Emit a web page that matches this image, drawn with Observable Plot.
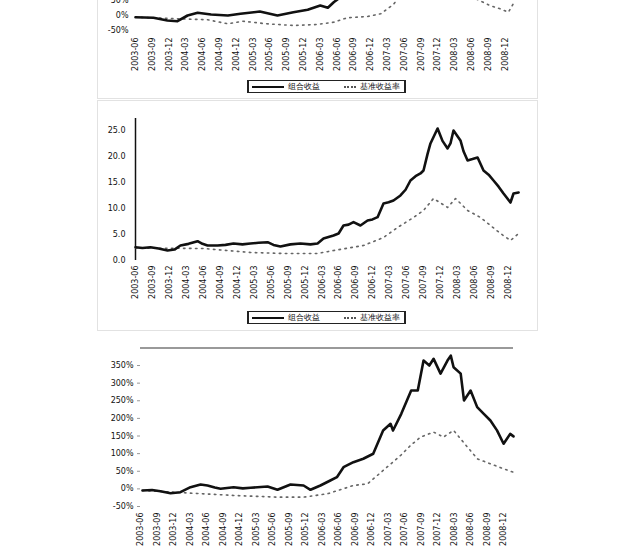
<!DOCTYPE html>
<html>
<head>
<meta charset="utf-8">
<script src="https://cdn.jsdelivr.net/npm/d3@7"></script>
<script src="https://cdn.jsdelivr.net/npm/@observablehq/plot@0.6"></script>
<style>
  html, body { margin: 0; padding: 0; background: #fff; }
  #page { position: relative; width: 632px; height: 553px; overflow: hidden; background: #fff; font-family: "DejaVu Sans", sans-serif; }
  .frame { position: absolute; border: 1px solid #e2e2e2; box-sizing: border-box; }
  .chart { position: absolute; }
  .legend { position: absolute; height: 13px; box-sizing: border-box; border: 1px solid #222; border-left-width: 2px; border-right-width: 2px;
            display: flex; align-items: center; font-size: 8px; color: #111; white-space: nowrap; }
  .legend .ln { display: inline-block; width: 32px; border-top: 2px solid #111; margin: 0 4px 0 3px; }
  .legend .dt { display: inline-block; width: 12px; border-top: 2px dotted #555; margin: 0 4px 0 24px; }
</style>
</head>
<body>
<div id="page"></div>
<script>
// x-axis category labels (quarter ends)
const xLabels = ["2003-06","2003-09","2003-12","2004-03","2004-06","2004-09","2004-12","2005-03","2005-06","2005-09","2005-12","2006-03","2006-06","2006-09","2006-12","2007-03","2007-06","2007-09","2007-12","2008-03","2008-06","2008-09","2008-12"];
const seriesNames = ["组合收益", "基准收益率"];

// Top panel (mostly cut off): % values
const topAx = [0, 1.07, 1.9, 2.5, 3.1, 3.7, 4.5, 5.5, 6.25, 7.4, 8.45, 9.4, 10.25, 11.0, 11.45, 11.8, 12.1, 13, 14, 15, 16, 17, 17.8, 18.4, 18.8, 19.5, 20.5, 21.5, 22.4, 22.7];
const topAy = [-5.7, -7.7, -16.7, -19, 0, 9, 3.3, 0, 5.7, 13.3, 0, 11, 19, 33.3, 25.7, 44.3, 56.7, 100, 130, 200, 280, 330, 390, 330, 380, 300, 240, 190, 150, 170];
const topBx = [0, 4.3, 5.5, 6.4, 7.8, 9.4, 10.8, 11.8, 12.6, 13.8, 14.6, 15.35, 16.5, 17.7, 18.9, 20.1, 21.1, 21.7, 22.2, 22.5];
const topBy = [-5.7, -14.3, -27.7, -19, -27.7, -33.3, -30, -22.3, -7.7, -3.3, 5.7, 36.7, 120, 160, 110, 60, 33.3, 22.3, 11, 40];
const topTicks = [-50, 0, 50];

// Middle panel
const midAx = [0, 0.41, 0.88, 1.36, 1.89, 2.3, 2.65, 3.13, 3.66, 3.95, 4.25, 4.84, 5.31, 5.78, 6.31, 6.78, 7.26, 7.79, 8.14, 8.55, 9.14, 9.73, 10.32, 10.74, 11.09, 11.68, 11.98, 12.27, 12.57, 12.86, 13.27, 13.69, 13.98, 14.28, 14.63, 14.93, 15.22, 15.63, 15.93, 16.22, 16.52, 16.81, 16.99, 17.23, 17.4, 17.82, 18.11, 18.41, 18.58, 18.76, 19.17, 19.35, 19.59, 19.88, 20.18, 20.53, 20.83, 21.12, 21.42, 21.71, 22.12, 22.3, 22.6];
const midAy = [2.56, 2.4, 2.56, 2.3, 1.92, 2.1, 2.88, 3.2, 3.71, 3.2, 2.88, 2.88, 3.0, 3.27, 3.1, 3.27, 3.4, 3.52, 3.0, 2.69, 3.1, 3.27, 3.1, 3.27, 4.23, 4.81, 5.2, 6.73, 6.9, 7.37, 6.73, 7.69, 7.9, 8.33, 10.96, 11.2, 11.54, 12.5, 13.6, 15.38, 16.2, 16.73, 17.31, 20.5, 22.5, 25.38, 23, 21.54, 22.5, 25, 23.08, 21, 19.23, 19.5, 19.81, 17.31, 16.5, 15.38, 14.2, 12.88, 11.15, 12.88, 13.08];
const midBx = [0, 4.01, 6.78, 8.73, 10.74, 11.68, 13.45, 14.63, 15.46, 16.4, 16.99, 17.58, 18.41, 18.88, 19.59, 20.35, 20.94, 21.53, 22.12, 22.6];
const midBy = [2.4, 2.31, 1.54, 1.35, 1.35, 1.92, 2.88, 4.42, 6.35, 8.27, 9.62, 11.92, 10.19, 11.92, 9.62, 8.27, 6.73, 5.19, 3.85, 5.19];
const midTicks = [0, 5, 10, 15, 20, 25];

// Bottom panel: % values
const botAx = [0.12, 0.7, 1.21, 1.82, 2.42, 3.03, 3.64, 4.06, 4.5, 4.85, 5.64, 6.2, 6.67, 7.7, 8.3, 9.09, 9.88, 10.3, 10.9, 11.5, 11.9, 12.3, 12.9, 13.5, 14.1, 14.7, 15.15, 15.3, 15.8, 16.4, 16.8, 17.15, 17.5, 17.76, 18.18, 18.6, 18.8, 18.97, 19.4, 19.6, 20, 20.4, 20.8, 21.2, 21.6, 22, 22.4, 22.6];
const botAy = [-4.5, -3, -6.5, -12.2, -9.4, 4.8, 12.5, 9.6, 4, 0.3, 4.8, 1.5, 3.1, 6.8, -2.6, 12.5, 9.6, -2.6, 9.6, 23.8, 33.2, 61.6, 75.7, 85.4, 99.6, 165.7, 184.7, 165.7, 213, 279, 279, 364, 350, 369, 327, 364, 378, 345, 327, 251, 279, 232, 213, 194, 166, 128, 156, 149];
const botBx = [0.12, 5.64, 8.3, 9.88, 11.33, 12.9, 13.76, 14.7, 15.76, 16.36, 16.97, 17.76, 18.36, 18.97, 19.82, 20.42, 21.21, 22, 22.6];
const botBy = [-4.5, -18.7, -23.5, -23.5, -13.9, 9.6, 14.5, 52.2, 94.8, 123, 147, 161, 147, 166, 118, 85, 71, 57, 47];
const botTicks = [-50, 0, 50, 100, 150, 200, 250, 300, 350];

const page = document.getElementById("page");
const rows = (xs, ys) => xs.map((x, i) => ({x, y: ys[i]}));
const font = "DejaVu Sans, sans-serif";
const lineA = {x: "x", y: "y", stroke: "#111", strokeWidth: 2.6, curve: "linear"};
const lineB = {x: "x", y: "y", stroke: "#666", strokeWidth: 1.6, strokeDasharray: "1.5,4.5"};
const xAxis = (pad) => Plot.axisX({ticks: d3.range(xLabels.length), tickFormat: i => xLabels[i], tickRotate: -90, tickSize: 0, tickPadding: pad, label: null, fontSize: 8});

function place(el, left, top) {
  const w = document.createElement("div");
  w.className = "chart";
  w.style.left = left + "px";
  w.style.top = top + "px";
  w.appendChild(el);
  page.appendChild(w);
}
function frame(l, t, w, h) {
  const d = document.createElement("div");
  d.className = "frame";
  Object.assign(d.style, {left: l + "px", top: t + "px", width: w + "px", height: h + "px"});
  page.appendChild(d);
}
function legend(l, t, w) {
  const d = document.createElement("div");
  d.className = "legend";
  Object.assign(d.style, {left: l + "px", top: t + "px", width: w + "px"});
  d.innerHTML = `<span class="ln"></span><span>${seriesNames[0]}</span><span class="dt"></span><span>${seriesNames[1]}</span>`;
  page.appendChild(d);
}

frame(97, -120, 441, 219);
frame(97, 100, 441, 231);

// Top panel
place(Plot.plot({
  width: 440, height: 200,
  marginLeft: 38, marginRight: 19, marginTop: 20, marginBottom: 42,
  style: {fontFamily: font, color: "#111", background: "transparent"},
  x: {domain: [0, 22.8]},
  y: {domain: [-60, 400]},
  marks: [
    Plot.axisY({ticks: topTicks, tickFormat: d => d + "%", tickSize: 0, tickPadding: 7, label: null, fontSize: 8}),
    xAxis(4),
    Plot.line(rows(topBx, topBy), lineB),
    Plot.line(rows(topAx, topAy), lineA)
  ]
}), 97, -125);
legend(247, 80, 159);

// Middle panel
place(Plot.plot({
  width: 440, height: 205,
  marginLeft: 38, marginRight: 15.5, marginTop: 18, marginBottom: 45,
  style: {fontFamily: font, color: "#111", background: "transparent"},
  x: {domain: [0, 22.8]},
  y: {domain: [0, 27.3]},
  marks: [
    Plot.axisY({ticks: midTicks, tickFormat: d => d.toFixed(1), tickSize: 0, tickPadding: 10, label: null, fontSize: 8}),
    xAxis(5),
    Plot.ruleX([0], {stroke: "#111", strokeWidth: 1.5}),
    Plot.line(rows(midBx, midBy), lineB),
    Plot.line(rows(midAx, midAy), lineA)
  ]
}), 97, 100);
legend(247, 311, 159);

// Bottom panel
place(Plot.plot({
  width: 440, height: 240,
  marginLeft: 43, marginRight: 24, marginTop: 17.4, marginBottom: 64,
  style: {fontFamily: font, color: "#111", background: "transparent"},
  x: {domain: [0, 22.6]},
  y: {domain: [-50, 400]},
  marks: [
    Plot.axisY({ticks: botTicks, tickFormat: d => d + "%", tickSize: 3, tickPadding: 4, label: null, fontSize: 8, stroke: "#999"}),
    xAxis(6),
    Plot.ruleY([400], {stroke: "#999", strokeWidth: 2}),
    Plot.line(rows(botBx, botBy), lineB),
    Plot.line(rows(botAx, botAy), lineA)
  ]
}), 97, 330);
</script>
</body>
</html>
